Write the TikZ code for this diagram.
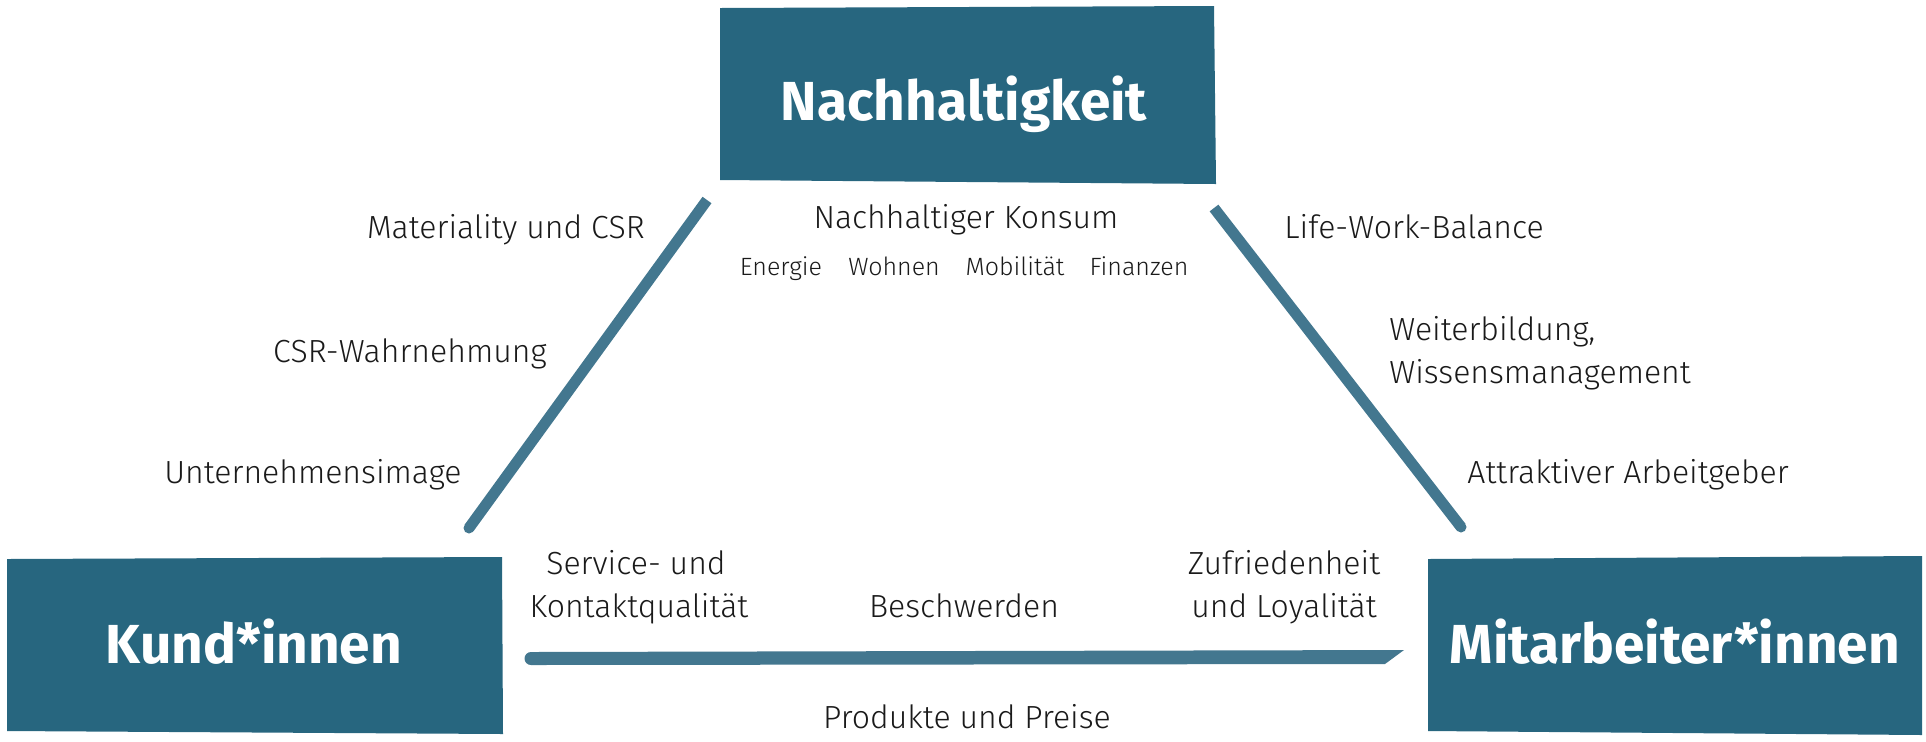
\documentclass[tikz,border=0pt]{standalone}
\usepackage{fontspec}
\setmainfont{Fira Sans Light}[BoldFont={Fira Sans Bold}]
\definecolor{boxc}{HTML}{27667F}
\definecolor{linec}{HTML}{43778F}
\definecolor{txtc}{HTML}{1A1A1A}
\tikzset{
  lbl/.style={font=\fontsize{16pt}{21.5pt}\selectfont, text=txtc, inner sep=0pt},
  sublbl/.style={font=\fontsize{12.5pt}{15pt}\selectfont, text=txtc, inner sep=0pt, anchor=base},
  title/.style={font=\fontsize{27.5pt}{30pt}\selectfont\bfseries, text=white, inner sep=0pt, anchor=base},
  stroke/.style={draw=linec, line width=5.5pt, line cap=butt},
  endcap/.style={fill=linec},
}
\begin{document}
\begin{tikzpicture}[x=0.5pt,y=-0.5pt]
\useasboundingbox (0,0) rectangle (1926,741);
% boxes
\fill[boxc] (720,8) -- (1214,6) -- (1216,184) -- (720,180) -- cycle;
\fill[boxc] (7,559) -- (502,557) -- (503,734) -- (7,731) -- cycle;
\fill[boxc] (1428,559) -- (1922,556) -- (1922,735) -- (1428,731) -- cycle;
\node[title] (nach) at (964,120) {Nachhaltigkeit};
\node[title] (kund) at (254,663) {Kund*innen};
\node[title] (mit) at (1675,663) {Mitarbeiter*innen};
% connector strokes
\coordinate (l1) at (469,528);
\coordinate (l2) at (707,200);
\coordinate (r1) at (1214,208);
\coordinate (r2) at (1461,527);
\draw[stroke] (l1) -- (l2);
\fill[endcap] (l1) circle[radius=2.75pt];
\draw[stroke] (r1) -- (r2);
\fill[endcap] (r2) circle[radius=2.75pt];
\coordinate (b1) at (531,652);
\coordinate (b2) at (1404,650);
\coordinate (b3) at (1385,664);
\coordinate (b4) at (531,665);
\coordinate (bc) at (531,658.5);
\fill[linec] (b1) -- (b2) -- (b3) -- (b4) -- cycle;
\fill[endcap] (bc) circle[radius=3.25pt];
% labels left
\node[lbl, anchor=base east] (m1) at (645,238) {Materiality und CSR};
\node[lbl, anchor=base east] (m2) at (547,362) {CSR-Wahrnehmung};
\node[lbl, anchor=base east] (m3) at (462,483) {Unternehmensimage};
% top
\node[lbl, anchor=base] (k1) at (966,228) {Nachhaltiger Konsum};
\node[sublbl] (s1) at (781,275) {Energie};
\node[sublbl] (s2) at (894,275) {Wohnen};
\node[sublbl] (s3) at (1015,275) {Mobilität};
\node[sublbl] (s4) at (1139,275) {Finanzen};
% right
\node[lbl, anchor=base west] (w1) at (1284,238) {Life-Work-Balance};
\node[lbl, anchor=base west] (w2) at (1389,340) {Weiterbildung,};
\node[lbl, anchor=base west] (w3) at (1389,383) {Wissensmanagement};
\node[lbl, anchor=base west] (w4) at (1467,483) {Attraktiver Arbeitgeber};
% bottom
\node[lbl, anchor=base] (b5) at (636,574) {Service- und};
\node[lbl, anchor=base] (b6) at (639,617) {Kontaktqualität};
\node[lbl, anchor=base] (b7) at (964,617) {Beschwerden};
\node[lbl, anchor=base] (b8) at (1284,574) {Zufriedenheit};
\node[lbl, anchor=base] (b9) at (1284,617) {und Loyalität};
\node[lbl, anchor=base] (b10) at (967,728) {Produkte und Preise};
\end{tikzpicture}
\end{document}
